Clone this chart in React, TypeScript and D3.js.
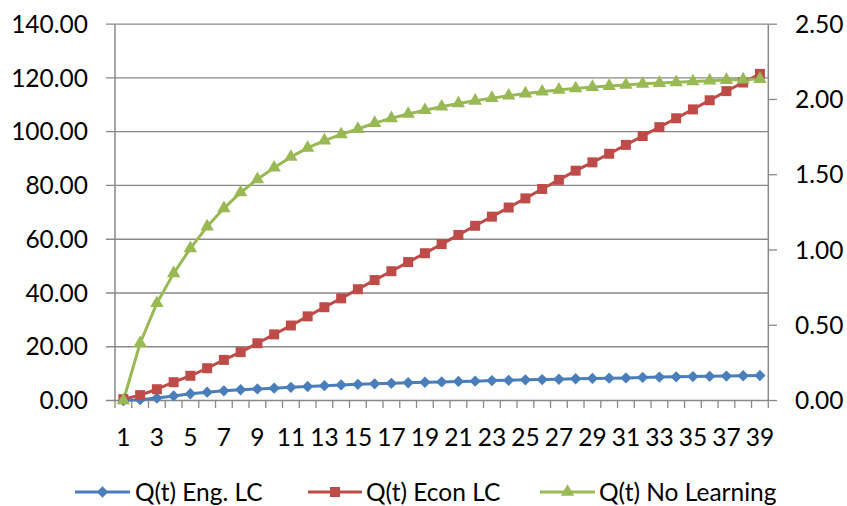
import React from "react";
import * as d3 from "d3";

const categories: string[] = Array.from({ length: 39 }, (_, i) => String(i + 1));
const engLC: number[] = [0, 0.3, 0.9, 1.7, 2.5, 3.1, 3.6, 4.0, 4.3, 4.6, 4.9, 5.2, 5.5, 5.8, 6.0, 6.2, 6.4, 6.6, 6.8, 6.9, 7.1, 7.2, 7.4, 7.5, 7.7, 7.8, 7.9, 8.1, 8.2, 8.3, 8.4, 8.6, 8.7, 8.8, 8.9, 9.0, 9.1, 9.2, 9.3];
const econLC: number[] = [0.5, 2.0, 4.2, 6.8, 9.2, 12.0, 15.1, 18.0, 21.3, 24.6, 27.9, 31.3, 34.7, 38.0, 41.4, 44.8, 48.1, 51.5, 54.8, 58.2, 61.6, 65.0, 68.4, 71.8, 75.2, 78.7, 82.1, 85.5, 88.6, 91.8, 95.1, 98.4, 101.7, 105.0, 108.3, 111.7, 115.1, 118.3, 121.5];
const noLearning: number[] = [0, 21.3, 36.2, 47.3, 56.6, 64.7, 71.5, 77.4, 82.3, 86.6, 90.6, 94.0, 96.7, 99.0, 101.0, 103.2, 105.0, 106.6, 108.0, 109.3, 110.5, 111.5, 112.5, 113.4, 114.2, 114.9, 115.6, 116.1, 116.6, 117.0, 117.4, 117.8, 118.1, 118.4, 118.7, 119.0, 119.2, 119.4, 119.6];
const leftTicks: number[] = [0, 20, 40, 60, 80, 100, 120, 140];
const rightTicks: number[] = [0, 0.5, 1.0, 1.5, 2.0, 2.5];
const seriesNames: string[] = ["Q(t) Eng. LC", "Q(t) Econ LC", "Q(t) No Learning"];
const seriesColors: string[] = ["#4A7EBB", "#BE4B48", "#98B954"];

const W = 847, H = 506;
const L = 115, R = 768.3, T = 24.2, B = 400.5;
const FONT = "Lato, 'Open Sans', sans-serif";
const FS = 24.5;
const GRID = "#898989";
const LEG_Y = 492;

export default function App() {
  const x = d3.scaleBand<string>().domain(categories).range([L, R]).padding(0);
  const yL = d3.scaleLinear().domain([0, 140]).range([B, T]);
  const yR = d3.scaleLinear().domain([0, 2.5]).range([B, T]);
  const cx = (i: number) => (x(categories[i]) as number) + x.bandwidth() / 2;
  const line = d3.line<number>().x((_, i) => cx(i)).y((d) => yL(d));
  const data = [engLC, econLC, noLearning];
  const diamond = d3.symbol().type(d3.symbolSquare).size(64)()!;
  const square = d3.symbol().type(d3.symbolSquare).size(100)()!;
  const triangle = d3.symbol().type(d3.symbolTriangle).size(78)()!;
  const marker = (k: number, px: number, py: number, key: string) => {
    if (k === 0) return <path key={key} d={diamond} transform={`translate(${px},${py}) rotate(45)`} fill={seriesColors[0]} />;
    if (k === 1) return <path key={key} d={square} transform={`translate(${px},${py})`} fill={seriesColors[1]} />;
    return <path key={key} d={triangle} transform={`translate(${px},${py})`} fill={seriesColors[2]} />;
  };
  const boundaries = d3.range(categories.length + 1).map((i) => L + i * x.bandwidth());
  const legendItems = [
    { x1: 75, x2: 130, tx: 135 },
    { x1: 308, x2: 362, tx: 366 },
    { x1: 540, x2: 595, tx: 599 },
  ];
  return (
    <svg width={W} height={H} style={{ position: "absolute", left: 0, top: 0, background: "#fff" }} fontFamily={FONT}>
      <rect width={W} height={H} fill="#fff" />
      {leftTicks.map((t) => (
        <g key={"gl" + t}>
          <line x1={106} x2={R} y1={yL(t)} y2={yL(t)} stroke={GRID} strokeWidth={1.3} />
          <text x={88} y={yL(t)} dy="0.35em" textAnchor="end" fontSize={FS} fill="#000">{t.toFixed(2)}</text>
        </g>
      ))}
      {rightTicks.map((t) => (
        <g key={"gr" + t}>
          <line x1={R} x2={777} y1={yR(t)} y2={yR(t)} stroke={GRID} strokeWidth={1.3} />
          <text x={795} y={yR(t)} dy="0.35em" textAnchor="start" fontSize={FS} fill="#000">{t.toFixed(2)}</text>
        </g>
      ))}
      <line x1={L} x2={L} y1={T} y2={B} stroke={GRID} strokeWidth={1.5} />
      <line x1={R} x2={R} y1={T} y2={B} stroke={GRID} strokeWidth={1.5} />
      {boundaries.map((bx, i) => (
        <line key={"tk" + i} x1={bx} x2={bx} y1={B} y2={408} stroke={GRID} strokeWidth={1.3} />
      ))}
      {categories.map((c, i) =>
        i % 2 === 0 ? (
          <text key={"xl" + c} x={cx(i)} y={437} dy="0.35em" textAnchor="middle" fontSize={FS} fill="#000">{c}</text>
        ) : null
      )}
      {data.map((s, k) => (
        <path key={"ln" + k} d={line(s)!} fill="none" stroke={seriesColors[k]} strokeWidth={3} strokeLinejoin="round" />
      ))}
      {data.map((s, k) => s.map((v, i) => marker(k, cx(i), yL(v), `m${k}-${i}`)))}
      {legendItems.map((li, k) => (
        <g key={"lg" + k}>
          <line x1={li.x1} x2={li.x2} y1={LEG_Y} y2={LEG_Y} stroke={seriesColors[k]} strokeWidth={3} />
          {marker(k, (li.x1 + li.x2) / 2, LEG_Y, "lm" + k)}
          <text x={li.tx} y={LEG_Y} dy="0.35em" fontSize={FS} fill="#000">{seriesNames[k]}</text>
        </g>
      ))}
    </svg>
  );
}
